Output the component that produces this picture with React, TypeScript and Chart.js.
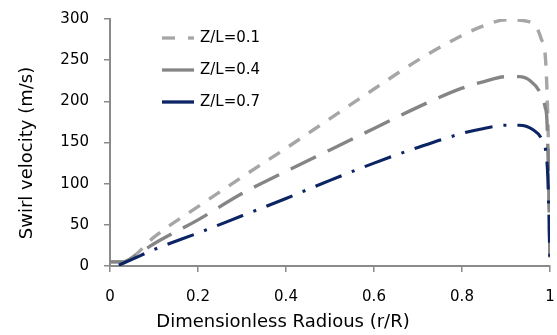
import React, { useEffect, useRef } from "react";
import { Chart, registerables } from "chart.js";

Chart.register(...registerables);

// Series: Z/L = 0.1
const xL01 = [0, 0.03, 0.05, 0.1, 0.2, 0.3, 0.4, 0.5, 0.6, 0.7, 0.8, 0.85, 0.9, 0.94, 0.97, 0.98, 0.99, 0.995, 0.998, 1];
const vL01 = [5, 5, 10, 35, 72, 108, 143, 179, 215, 250, 280, 292, 299, 298, 289, 276, 250, 180, 100, 0];
// Series: Z/L = 0.4
const xL04 = [0, 0.03, 0.05, 0.1, 0.2, 0.3, 0.4, 0.5, 0.6, 0.7, 0.8, 0.85, 0.9, 0.93, 0.955, 0.977, 0.989, 0.993, 0.997, 1];
const vL04 = [5, 5, 10, 27, 56, 88, 115, 141, 167, 193, 216, 224, 230, 230, 225, 211, 193, 177, 100, 0];
// Series: Z/L = 0.7
const xL07 = [0.02, 0.05, 0.1, 0.2, 0.3, 0.4, 0.5, 0.6, 0.7, 0.8, 0.85, 0.9, 0.93, 0.96, 0.982, 0.991, 0.995, 0.998, 1];
const vL07 = [1, 8, 20, 40, 61, 82, 104, 125, 144, 161, 167, 171, 171, 166, 153, 137, 108, 52, 0];

const seriesLabels = ["Z/L=0.1", "Z/L=0.4", "Z/L=0.7"];
const xTickLabels = ["0", "0.2", "0.4", "0.6", "0.8", "1"];
const yTickLabels = ["0", "50", "100", "150", "200", "250", "300"];
const xTitle = "Dimensionless Radious (r/R)";
const yTitle = "Swirl velocity (m/s)";

const FONT = "'DejaVu Sans', sans-serif";
const colors = ["#a6a6a6", "#858585", "#0b2463"];
const dashes = [[13, 11], [28, 13], [28, 11, 3, 11]];
const legendDashes = [[13, 13], [], []];

const toPts = (xs: number[], vs: number[]) => xs.map((x, i) => ({ x, y: vs[i] }));

const overlayPlugin = {
  id: "overlay",
  afterDraw(chart: any) {
    const ctx = chart.ctx;
    ctx.save();
    // legend
    const rows = [38, 70, 102];
    seriesLabels.forEach((lab, i) => {
      ctx.beginPath();
      ctx.strokeStyle = colors[i];
      ctx.lineWidth = 3.3;
      ctx.lineCap = "butt";
      ctx.setLineDash(legendDashes[i]);
      ctx.moveTo(162, rows[i]);
      ctx.lineTo(194, rows[i]);
      ctx.stroke();
      ctx.setLineDash([]);
      ctx.fillStyle = "#000";
      ctx.font = `15px ${FONT}`;
      ctx.textAlign = "left";
      ctx.textBaseline = "middle";
      ctx.fillText(lab, 200, rows[i]);
    });
    // axis titles
    ctx.fillStyle = "#000";
    ctx.font = `18px ${FONT}`;
    ctx.textAlign = "center";
    ctx.textBaseline = "middle";
    ctx.fillText(xTitle, 283, 322);
    ctx.translate(27, 153);
    ctx.rotate(-Math.PI / 2);
    ctx.fillText(yTitle, 0, 0);
    ctx.restore();
  },
};

export default function App() {
  const ref = useRef<HTMLCanvasElement>(null);
  useEffect(() => {
    const canvas = ref.current!;
    const mk = (i: number, xs: number[], vs: number[], order: number, width: number) => ({
      label: seriesLabels[i],
      data: toPts(xs, vs),
      borderColor: colors[i],
      backgroundColor: colors[i],
      borderWidth: width,
      borderDash: dashes[i],
      borderCapStyle: "butt",
      pointRadius: 0,
      fill: false,
      cubicInterpolationMode: "monotone",
      order,
    });
    const chart = new Chart(canvas, {
      type: "line",
      data: {
        datasets: [
          mk(0, xL01, vL01, 3, 3.4),
          mk(1, xL04, vL04, 2, 3.4),
          mk(2, xL07, vL07, 1, 3.1),
        ] as any,
      },
      options: {
        animation: false,
        responsive: false,
        layout: { padding: { top: 19, right: 7, left: 0, bottom: 0 } },
        plugins: { legend: { display: false }, tooltip: { enabled: false } },
        scales: {
          x: {
            type: "linear",
            min: 0,
            max: 1,
            afterFit: (s: any) => { s.height = 69; s.paddingLeft = 0; s.paddingRight = 0; },
            ticks: {
              stepSize: 0.2,
              padding: 16,
              color: "#000",
              font: { family: FONT, size: 15 },
              maxRotation: 0,
              callback: (_v: any, i: number) => xTickLabels[i],
            },
            grid: { drawOnChartArea: false, drawTicks: true, tickLength: 6, color: "#8a8a8a", lineWidth: 1.5 },
            border: { display: true, color: "#8a8a8a", width: 2 },
          },
          y: {
            type: "linear",
            min: 0,
            max: 300,
            afterFit: (s: any) => { s.width = 110; s.paddingTop = 0; s.paddingBottom = 0; },
            ticks: {
              stepSize: 50,
              padding: 15,
              color: "#000",
              font: { family: FONT, size: 15 },
              callback: (_v: any, i: number) => yTickLabels[i],
            },
            grid: { drawOnChartArea: false, drawTicks: true, tickLength: 6, color: "#8a8a8a", lineWidth: 1.5 },
            border: { display: true, color: "#8a8a8a", width: 2 },
          },
        },
      },
      plugins: [overlayPlugin],
    });
    return () => chart.destroy();
  }, []);
  return (
    <div style={{ position: "absolute", left: 0, top: 0, width: 557, height: 335, background: "#fff" }}>
      <canvas ref={ref} width={557} height={335} style={{ display: "block" }} />
    </div>
  );
}
